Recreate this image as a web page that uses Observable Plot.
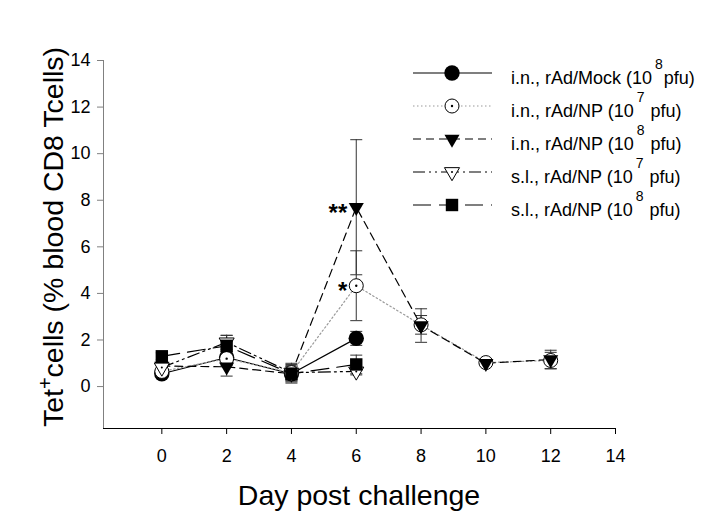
<!DOCTYPE html>
<html><head><meta charset="utf-8">
<script src="https://cdn.jsdelivr.net/npm/d3@7"></script>
<script src="https://cdn.jsdelivr.net/npm/@observablehq/plot@0.6"></script>
<style>
body{margin:0;background:#fff;}
#chart svg [aria-label^="y-axis"] line, #chart svg [aria-label^="y-axis"] path {stroke:#808080;}
</style>
</head><body><div id="chart"></div>
<script>
// ---- data ----
const days = [0, 2, 4, 6, 8, 10, 12];
const xTicks = [0, 2, 4, 6, 8, 10, 12, 14];
const yTicks = [0, 2, 4, 6, 8, 10, 12, 14];
const xDomain = [-1.8, 14];
const yDomain = [-1.8, 14];

const mockMean  = [0.55, 1.25, 0.55, 2.07];
const mockSE    = [0.10, 0.20, 0.30, 0.30];
const np7inMean = [0.65, 1.20, 0.60, 4.33, 2.65, 1.03, 1.12];
const np7inSE   = [0.10, 0.30, 0.30, 1.50, 0.40, 0.10, 0.35];
const np8inMean = [0.88, 0.85, 0.55, 7.70, 2.62, 1.00, 1.16];
const np8inSE   = [0.15, 0.40, 0.30, 2.90, 0.72, 0.10, 0.40];
const np7slMean = [0.82, 1.90, 0.60, 0.65];
const np7slSE   = [0.20, 0.30, 0.40, 0.15];
const np8slMean = [1.30, 1.75, 0.55, 0.95];
const np8slSE   = [0.15, 0.45, 0.40, 0.40];

const seriesLabels = ["i.n., rAd/Mock (10", "i.n., rAd/NP (10", "i.n., rAd/NP (10", "s.l., rAd/NP (10", "s.l., rAd/NP (10"];
const seriesExp    = ["8", "7", "8", "7", "8"];
const seriesTail   = ["pfu)", " pfu)", " pfu)", " pfu)", " pfu)"];

const starDays   = [6, 6];
const starValues = [7.70, 4.33];
const starLabels = ["**", "*"];

const xTitle = "Day post challenge";

// ---- build tables ----
const means = [mockMean, np7inMean, np8inMean, np7slMean, np8slMean];
const ses   = [mockSE, np7inSE, np8inSE, np7slSE, np8slSE];
const S = means.map((m, k) => m.map((v, i) => ({series: k, day: days[i], v, lo: v - ses[k][i], hi: v + ses[k][i]})));
const all = S.flat();
const stars = starDays.map((d, i) => ({day: d, v: starValues[i], t: starLabels[i]}));

// ---- styles ----
const st = [
  {dash: null, stroke: "#000"},
  {dash: "1.5,2.5", stroke: "#9a9a9a"},
  {dash: "8,5", stroke: "#000"},
  {dash: "12,4,2,4,2,4", stroke: "#000"},
  {dash: "18,8", stroke: "#000"}
];
const R = {circle: 7.7, ocircle: 7, tri: 5.6, otri: 5.6, square: 7};
const cap = {draw(ctx) { ctx.moveTo(-6, 0); ctx.lineTo(6, 0); }};

const marks = [
  Plot.ruleX([xDomain[0]], {y1: yDomain[0], y2: yDomain[1], stroke: "#808080"}),
  Plot.ruleY([yDomain[0]], {x1: xDomain[0], x2: xDomain[1], stroke: "#000"}),
  Plot.ruleX(all, {x: "day", y1: "lo", y2: "hi", stroke: "#333", strokeWidth: 1}),
  Plot.dot(all, {x: "day", y: "lo", symbol: cap, fill: "none", stroke: "#333", strokeWidth: 1}),
  Plot.dot(all, {x: "day", y: "hi", symbol: cap, fill: "none", stroke: "#333", strokeWidth: 1}),
  ...S.map((d, k) => Plot.line(d, {x: "day", y: "v", stroke: st[k].stroke, strokeWidth: 1.2, strokeDasharray: st[k].dash})),
  Plot.dot(S[0], {x: "day", y: "v", symbol: "circle", r: R.circle, fill: "#000", stroke: "none"}),
  Plot.dot(S[1], {x: "day", y: "v", symbol: "circle", r: R.ocircle, fill: "#fff", stroke: "#000", strokeWidth: 1}),
  Plot.dot(S[1], {x: "day", y: "v", symbol: "circle", r: 1.2, fill: "#000", stroke: "none"}),
  Plot.dot(S[2], {x: "day", y: "v", symbol: "triangle", rotate: 180, r: R.tri, fill: "#000", stroke: "none"}),
  Plot.dot(S[3], {x: "day", y: "v", symbol: "triangle", rotate: 180, r: R.otri, fill: "#fff", stroke: "#000", strokeWidth: 1}),
  Plot.dot(S[3], {x: "day", y: "v", symbol: "circle", r: 1, fill: "#000", stroke: "none"}),
  Plot.dot(S[4], {x: "day", y: "v", symbol: "square", r: R.square, fill: "#000", stroke: "none"}),
  Plot.text(stars, {x: "day", y: "v", text: "t", textAnchor: "end", dx: -9, dy: 6, fontSize: 24, fontWeight: "bold", fill: "#000"})
];

const svg = Plot.plot({
  width: 708, height: 527,
  marginLeft: 103, marginRight: 93, marginTop: 60, marginBottom: 99,
  x: {domain: xDomain, ticks: xTicks, tickSize: 6, tickPadding: 15, label: null},
  y: {domain: yDomain, ticks: yTicks, tickSize: 6, tickPadding: 7, label: null},
  style: {fontFamily: "'Liberation Sans', Arial, sans-serif", fontSize: "18px", color: "#000", background: "#fff"},
  marks
});
document.getElementById("chart").appendChild(svg);

// ---- titles ----
const root = d3.select(svg);
const ff = "'Liberation Sans', Arial, sans-serif";
root.append("text").attr("x", 359).attr("y", 505).attr("text-anchor", "middle")
  .attr("font-family", ff).attr("font-size", 28.5).attr("fill", "#000").text(xTitle);
const yt = root.append("text").attr("transform", "translate(63,237) rotate(-90)").attr("text-anchor", "middle")
  .attr("font-family", ff).attr("font-size", 28.5).attr("fill", "#000");
yt.append("tspan").text("Tet");
yt.append("tspan").attr("dy", -11).attr("font-size", 20).text("+");
yt.append("tspan").attr("dy", 11).text("cells (% blood CD8 Tcells)");

// ---- legend ----
const lg = root.append("g").attr("font-family", ff).attr("text-anchor", "start");
const symTypes = [d3.symbolCircle, d3.symbolCircle, d3.symbolTriangle, d3.symbolTriangle, d3.symbolSquare];
const symR = [R.circle, R.ocircle, R.tri, R.otri, R.square];
const symFill = ["#000", "#fff", "#000", "#fff", "#000"];
const symStroke = ["none", "#000", "none", "#000", "none"];
seriesLabels.forEach((lab, i) => {
  const y0 = 73 + i * 33;
  lg.append("line").attr("x1", 413).attr("x2", 492).attr("y1", y0).attr("y2", y0)
    .attr("stroke", st[i].stroke).attr("stroke-width", 1.2).attr("stroke-dasharray", st[i].dash);
  const rot = (i === 2 || i === 3) ? " rotate(180)" : "";
  lg.append("path").attr("d", d3.symbol().type(symTypes[i]).size(Math.PI * symR[i] * symR[i])())
    .attr("transform", `translate(452,${y0})${rot}`).attr("fill", symFill[i]).attr("stroke", symStroke[i]);
  if (i === 1 || i === 3) lg.append("circle").attr("cx", 452).attr("cy", y0).attr("r", i === 1 ? 1.2 : 1).attr("fill", "#000");
  const t = lg.append("text").attr("x", 511).attr("y", y0 + 10.5).attr("font-size", 18).attr("fill", "#000").attr("text-anchor", "start");
  t.append("tspan").text(lab);
  t.append("tspan").attr("dx", 3).attr("dy", -15).attr("font-size", 14).text(seriesExp[i]);
  t.append("tspan").attr("dx", 1).attr("dy", 15).text(seriesTail[i]);
});
</script>
</body></html>
